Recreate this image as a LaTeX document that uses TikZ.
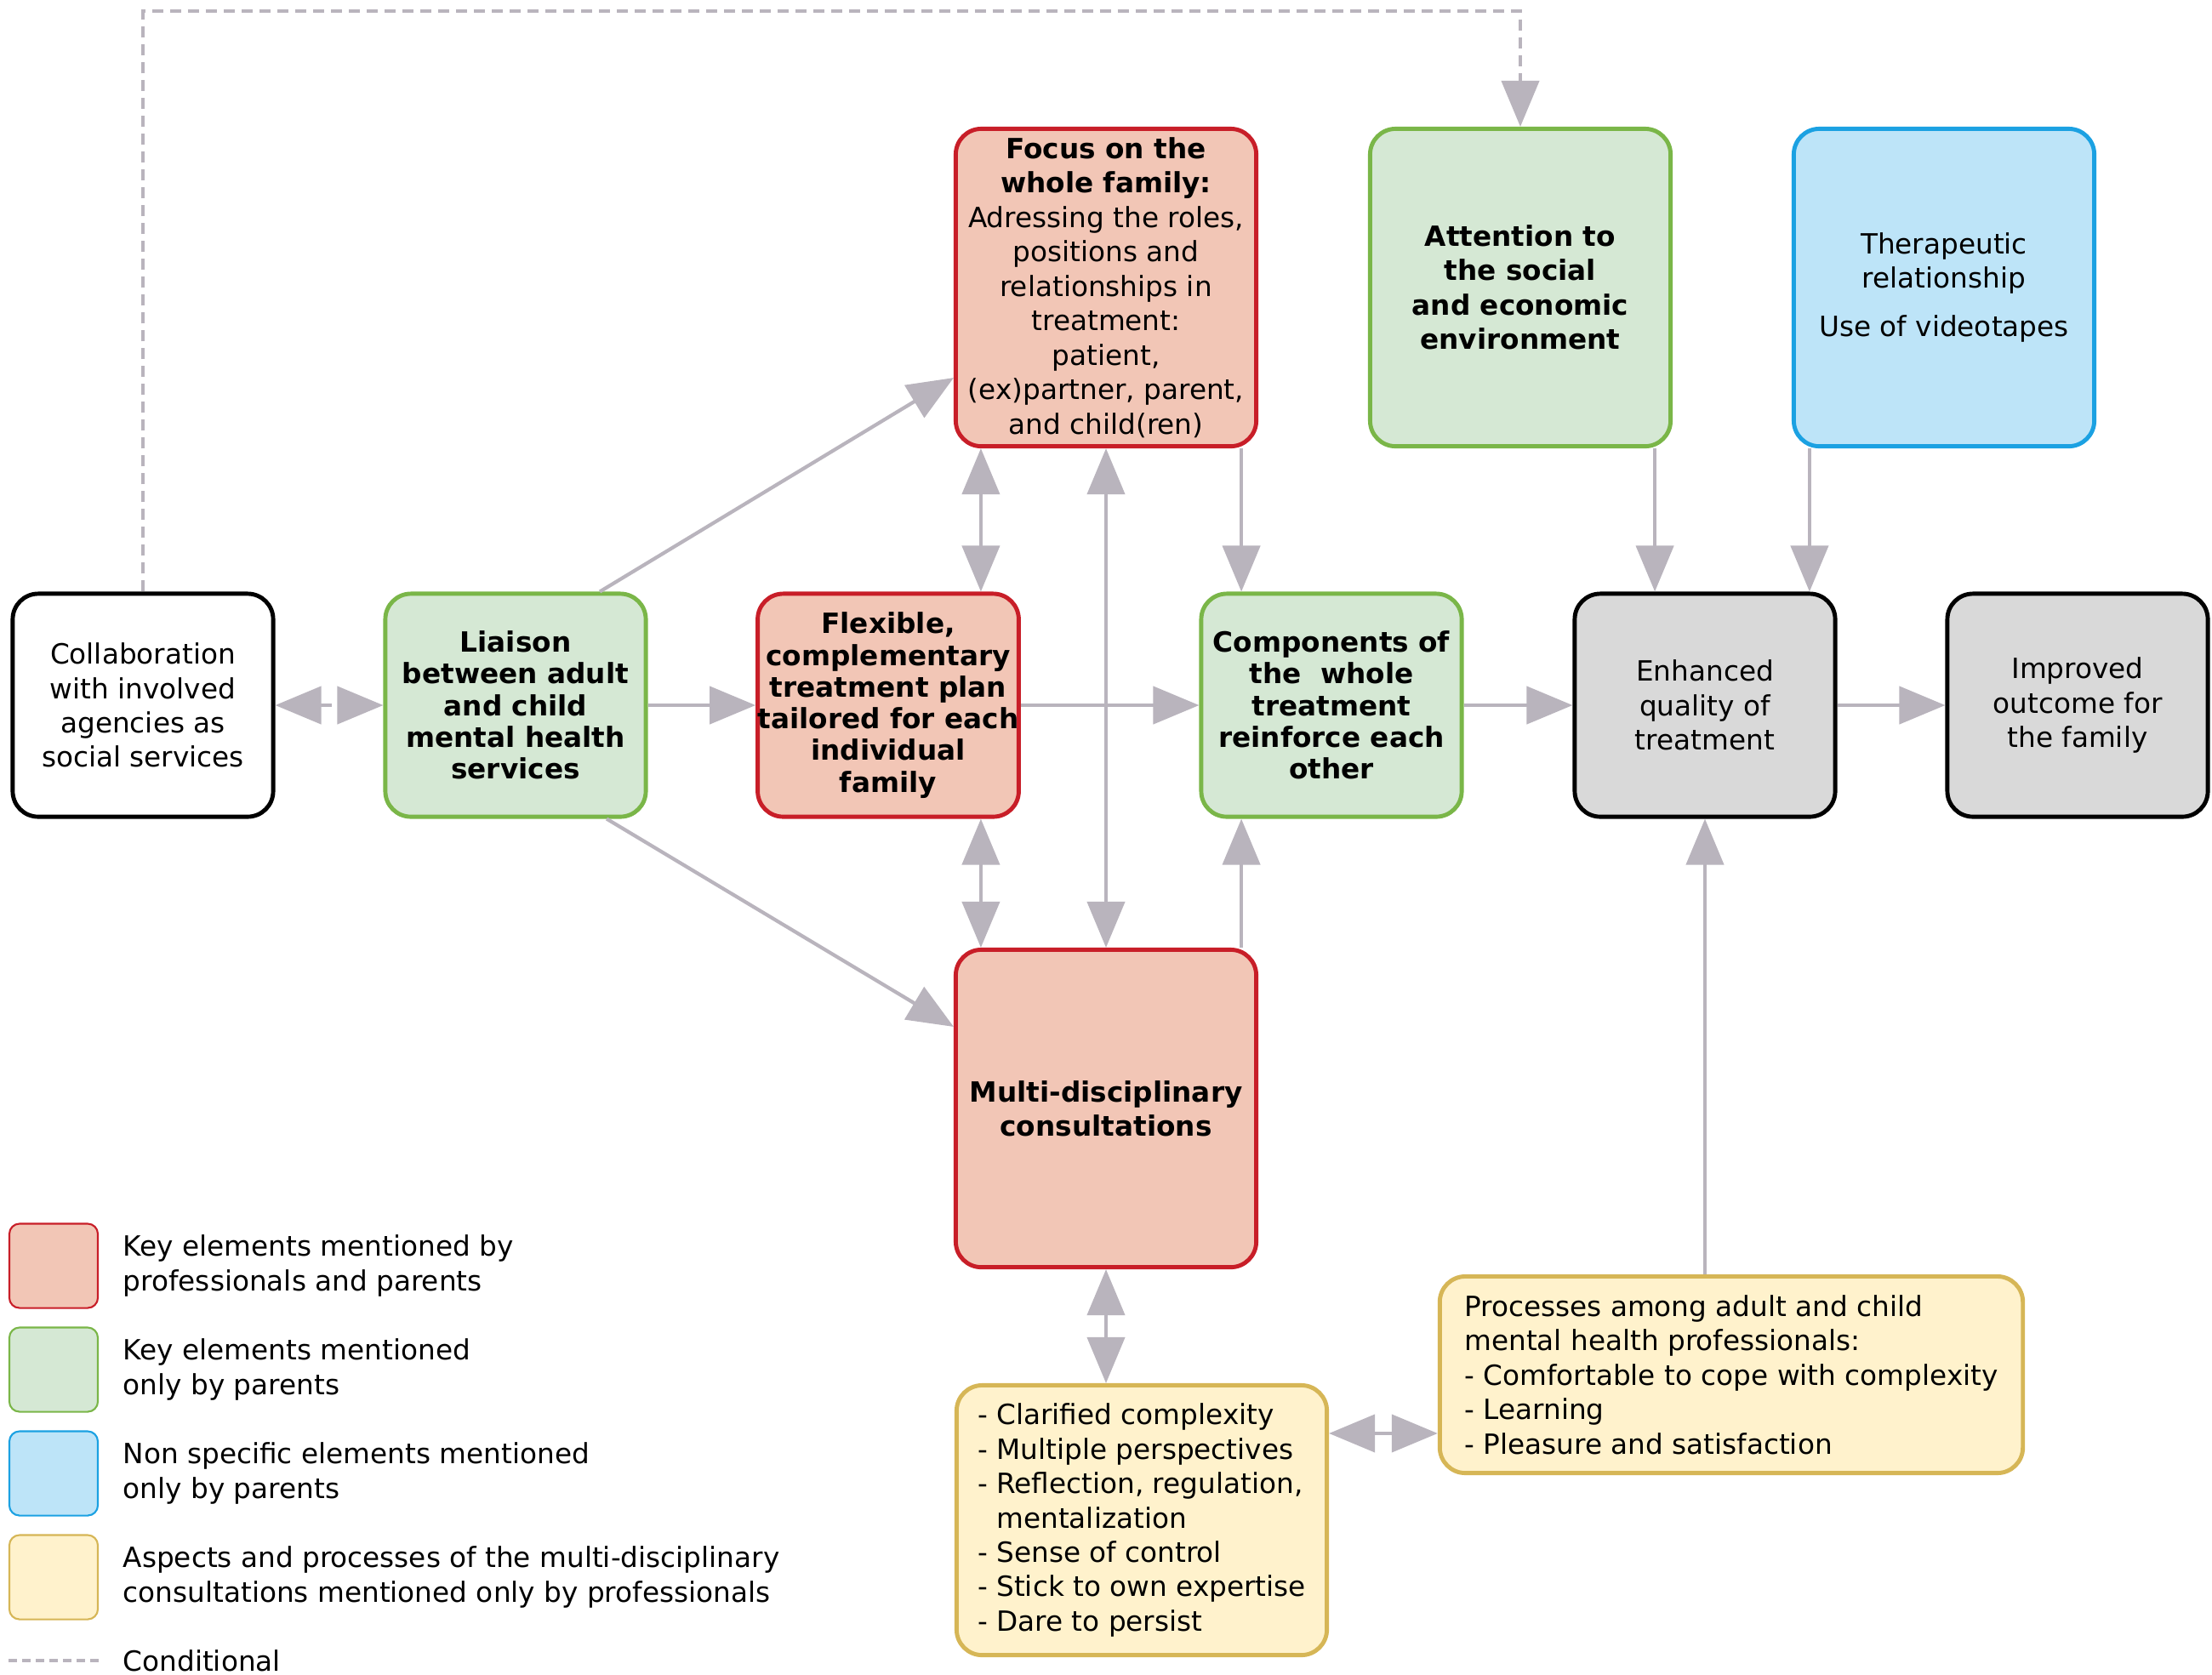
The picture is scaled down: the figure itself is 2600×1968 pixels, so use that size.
\documentclass[tikz,border=0pt]{standalone}
\usepackage{fontspec}
\setmainfont{DejaVu Sans}
\usetikzlibrary{arrows.meta}
\usetikzlibrary{positioning}

\definecolor{linered}{HTML}{C81E28}
\definecolor{fillred}{HTML}{F2C6B6}
\definecolor{linegreen}{HTML}{7AB648}
\definecolor{fillgreen}{HTML}{D5E8D4}
\definecolor{lineblue}{HTML}{1BA1E2}
\definecolor{fillblue}{HTML}{BDE4F8}
\definecolor{lineyellow}{HTML}{D6B656}
\definecolor{fillyellow}{HTML}{FFF2CC}
\definecolor{fillgray}{HTML}{D9D9D9}
\definecolor{arrowgray}{HTML}{B9B4BD}

\begin{document}
\begin{tikzpicture}[x=0.01cm, y=-0.01cm, font=\fontsize{9.3}{11.5}\selectfont,
 box/.style={draw, rounded corners=0.3cm, line width=1.4pt, align=center, inner sep=0pt, minimum width=3.06cm, minimum height=2.62cm},
 tall/.style={box, minimum width=3.53cm, minimum height=3.73cm},
 redbox/.style={fill=fillred, draw=linered},
 greenbox/.style={fill=fillgreen, draw=linegreen},
 bluebox/.style={fill=fillblue, draw=lineblue},
 yellowbox/.style={fill=fillyellow, draw=lineyellow, align=left},
 graybox/.style={fill=fillgray, draw=black},
 bold/.style={font=\fontsize{9.3}{11.5}\selectfont\bfseries},
 tight/.style={font=\fontsize{9.3}{10.6}\selectfont\bfseries},
 keybox/.style={draw, rounded corners=0.12cm, line width=0.6pt, minimum width=1.04cm, minimum height=0.99cm, inner sep=0pt},
 flow/.style={draw=arrowgray, line width=1.2pt, ->, >={Triangle[length=0.54cm,width=0.44cm]}},
 cond/.style={flow, dash pattern=on 0.13cm off 0.08cm}]
\useasboundingbox (0,0) rectangle (2600,1968);

\node[box, fill=white] (collab) at (168,829) {Collaboration\\with involved\\agencies as\\social services};
\node[box, greenbox, tight] (liaison) at (606,829) {Liaison\\between adult\\and child\\mental health\\services};
\node[box, redbox, tight] (flexible) at (1044,829) {Flexible,\\complementary\\treatment plan\\tailored for each\\individual\\family};
\node[box, greenbox, tight] (components) at (1565,829) {Components of\\the\ \ whole\\treatment\\reinforce each\\other};
\node[box, graybox] (enhanced) at (2004,829) {Enhanced\\quality of\\treatment};
\node[box, graybox] (improved) at (2442,829) {Improved\\outcome for\\the family};

\node[tall, redbox] (focus) at (1300,338) {\textbf{Focus on the}\\\textbf{whole family:}\\Adressing the roles,\\positions and\\relationships in\\treatment:\\patient,\\(ex)partner, parent,\\and child(ren)};
\node[tall, greenbox, bold] (attention) at (1787,338) {Attention to\\the social\\and economic\\environment};
\node[tall, bluebox] (therapeutic) at (2285,338) {Therapeutic\\relationship\\[0.17cm]Use of videotapes};
\node[tall, redbox, bold] (multi) at (1300,1303) {Multi-disciplinary\\consultations};

\node[box, yellowbox, minimum width=4.35cm, minimum height=3.17cm] (aspects) at (1342,1787) {- Clarified complexity\\- Multiple perspectives\\- Reflection, regulation,\\\hphantom{-}\ mentalization\\- Sense of control\\- Stick to own expertise\\- Dare to persist};
\node[box, yellowbox, minimum width=6.85cm, minimum height=2.31cm] (processes) at (2035,1616) {Processes among adult and child\\mental health professionals:\\- Comfortable to cope with complexity\\- Learning\\- Pleasure and satisfaction};

\draw[cond, <->] (collab) -- (liaison);
\draw[flow] (liaison) -- (flexible);
\draw[flow] (flexible) -- (components);
\draw[flow] (components) -- (enhanced);
\draw[flow] (enhanced) -- (improved);
\draw[flow] ([xshift=0.99cm]liaison.north) -- ([yshift=-1.06cm]focus.west);
\draw[flow] ([xshift=1.07cm]liaison.south) -- ([yshift=0.96cm]multi.west);
\draw[flow, <->] ([xshift=-1.47cm]focus.south) -- ([xshift=-1.47cm]focus.south |- flexible.north);
\draw[flow, <->] ([xshift=-1.47cm]multi.north) -- ([xshift=-1.47cm]multi.north |- flexible.south);
\draw[flow, <->] (focus) -- (multi);
\draw[flow] ([xshift=1.59cm]focus.south) -- ([xshift=1.59cm]focus.south |- components.north);
\draw[flow] ([xshift=1.59cm]multi.north) -- ([xshift=1.59cm]multi.north |- components.south);
\draw[flow] ([xshift=1.58cm]attention.south) -- ([xshift=1.58cm]attention.south |- enhanced.north);
\draw[flow] ([xshift=-1.58cm]therapeutic.south) -- ([xshift=-1.58cm]therapeutic.south |- enhanced.north);
\draw[flow] (enhanced.south |- processes.north) -- (enhanced.south);
\draw[flow, <->] (multi.south) -- (multi.south |- aspects.north);
\draw[flow, <->] ([yshift=1.02cm]aspects.east) -- ([yshift=1.02cm]aspects.east -| processes.west);
\coordinate (bend) at (attention.north |- 0,13);
\draw[cond] (collab.north) |- (bend) -- (attention.north);

% legend
\foreach \col/\y/\txt in {red/1488/{Key elements mentioned by\\professionals and parents},
  green/1610/{Key elements mentioned\\only by parents},
  blue/1732/{Non specific elements mentioned\\only by parents},
  yellow/1854/{Aspects and processes of the multi-disciplinary\\consultations mentioned only by professionals}} {
 \node[keybox, fill=fill\col, draw=line\col] (key\col) at (63,\y) {};
 \node[right=0.28cm of key\col, align=left, inner sep=0pt] (label\col) {\txt};
}
\coordinate (condA) at (10,1952);
\coordinate (condB) at (116,1952);
\draw[draw=arrowgray, line width=1.2pt, dash pattern=on 0.1cm off 0.06cm] (condA) -- (condB);
\node[right=0.28cm of condB, inner sep=0pt] (labelcond) {Conditional};
\end{tikzpicture}
\end{document}
